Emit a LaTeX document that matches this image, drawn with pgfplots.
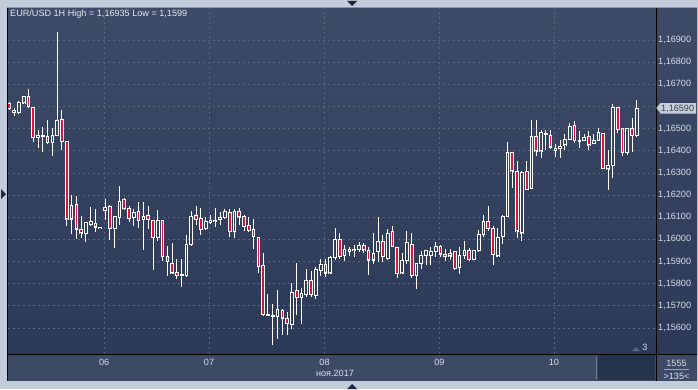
\documentclass[border=0pt]{standalone}
\usepackage{fontspec}
\setmainfont{Liberation Sans}
\usepackage{pgfplots}
\pgfplotsset{compat=1.18}
\usepackage{pgfplotstable}
\definecolor{framec}{HTML}{C2CCDA}
\definecolor{bgtop}{HTML}{3E4B67}
\definecolor{bgbot}{HTML}{2C3957}
\definecolor{barc}{HTML}{3D4A66}
\definecolor{scrollc}{HTML}{26334D}
\definecolor{gridc}{HTML}{56647F}
\definecolor{txt}{HTML}{D6DEEC}
\definecolor{cred}{HTML}{DC143C}
\definecolor{tri}{HTML}{1C2840}
\definecolor{tagc}{HTML}{C8CED8}
\definecolor{tagtxt}{HTML}{39414F}
\newcommand\fs{\fontsize{9.1bp}{11bp}\selectfont}

% white (rising) candles: index, open, high, low, close
\pgfplotstableread{
x O H L C
3 1.16574 1.16625 1.16567 1.16619
4 1.16616 1.16649 1.16610 1.16646
7 1.16462 1.16492 1.16414 1.16471
8 1.16465 1.16507 1.16396 1.16471
10 1.16438 1.16501 1.16378 1.16471
11 1.16471 1.16935 1.16468 1.16537
14 1.16092 1.16200 1.16023 1.16152
17 1.16025 1.16080 1.15989 1.16074
18 1.16068 1.16146 1.16059 1.16080
20 1.16053 1.16053 1.16053 1.16053
21 1.16131 1.16182 1.16086 1.16146
23 1.16050 1.16104 1.15962 1.16104
24 1.16098 1.16240 1.16065 1.16173
27 1.16098 1.16137 1.16059 1.16122
29 1.16089 1.16170 1.15953 1.16104
32 1.16007 1.16131 1.15992 1.16086
37 1.15838 1.15913 1.15786 1.15840
38 1.15838 1.16018 1.15829 1.15979
39 1.15976 1.16127 1.15970 1.16102
42 1.16048 1.16102 1.16042 1.16081
43 1.16078 1.16111 1.16069 1.16084
44 1.16083 1.16142 1.16057 1.16084
45 1.16091 1.16123 1.16066 1.16100
46 1.16100 1.16136 1.16091 1.16127
48 1.16036 1.16136 1.16006 1.16127
56 1.15651 1.15708 1.15522 1.15657
57 1.15651 1.15771 1.15549 1.15684
60 1.15615 1.15802 1.15594 1.15759
62 1.15738 1.15780 1.15618 1.15756
63 1.15753 1.15867 1.15741 1.15816
65 1.15747 1.15874 1.15729 1.15862
66 1.15860 1.15913 1.15834 1.15885
68 1.15849 1.15925 1.15847 1.15919
69 1.15919 1.16051 1.15907 1.16000
71 1.15928 1.15973 1.15903 1.15952
72 1.15946 1.15967 1.15925 1.15952
73 1.15952 1.15976 1.15922 1.15955
74 1.15955 1.15988 1.15943 1.15973
77 1.15907 1.16027 1.15889 1.15937
78 1.15946 1.16100 1.15898 1.15991
80 1.15913 1.16048 1.15910 1.16027
83 1.15849 1.15937 1.15843 1.15903
84 1.15903 1.16036 1.15889 1.15985
86 1.15838 1.15894 1.15774 1.15892
87 1.15892 1.15949 1.15865 1.15925
88 1.15928 1.15952 1.15885 1.15949
89 1.15928 1.15967 1.15883 1.15946
90 1.15946 1.15988 1.15922 1.15970
93 1.15925 1.15955 1.15907 1.15937
95 1.15874 1.15964 1.15843 1.15928
96 1.15928 1.15991 1.15913 1.15949
98 1.15910 1.15952 1.15907 1.15949
99 1.15949 1.16042 1.15946 1.16021
100 1.16021 1.16111 1.16012 1.16081
103 1.15926 1.16053 1.15923 1.16007
104 1.16014 1.16110 1.15978 1.16104
105 1.16104 1.16438 1.16101 1.16393
108 1.16029 1.16309 1.15992 1.16303
110 1.16230 1.16537 1.16227 1.16465
112 1.16399 1.16495 1.16366 1.16483
113 1.16474 1.16492 1.16402 1.16480
116 1.16408 1.16447 1.16369 1.16420
117 1.16426 1.16474 1.16402 1.16453
118 1.16453 1.16525 1.16447 1.16510
120 1.16441 1.16489 1.16411 1.16447
121 1.16447 1.16477 1.16444 1.16462
123 1.16435 1.16477 1.16432 1.16447
124 1.16447 1.16501 1.16444 1.16483
126 1.16318 1.16402 1.16221 1.16333
127 1.16333 1.16610 1.16276 1.16594
130 1.16393 1.16504 1.16381 1.16501
132 1.16468 1.16628 1.16465 1.16590
}\wt

% red (falling) candles: index, open, high, low, close
\pgfplotstableread{
x O H L C
1 1.16612 1.16619 1.16585 1.16589
2 1.16583 1.16594 1.16558 1.16574
5 1.16646 1.16679 1.16592 1.16601
6 1.16594 1.16594 1.16441 1.16462
9 1.16465 1.16537 1.16432 1.16438
12 1.16540 1.16583 1.16402 1.16444
13 1.16441 1.16441 1.16059 1.16092
15 1.16158 1.16197 1.16002 1.16047
16 1.16044 1.16104 1.16005 1.16029
19 1.16071 1.16137 1.16034 1.16056
22 1.16149 1.16155 1.15998 1.16050
25 1.16179 1.16188 1.16134 1.16140
26 1.16140 1.16152 1.16080 1.16095
28 1.16125 1.16170 1.16050 1.16086
30 1.16107 1.16149 1.16047 1.16089
31 1.16086 1.16086 1.15863 1.16007
33 1.16083 1.16083 1.15902 1.15923
34 1.15923 1.15971 1.15833 1.15900
35 1.15892 1.15985 1.15843 1.15849
36 1.15849 1.15910 1.15820 1.15838
40 1.16109 1.16151 1.16066 1.16091
41 1.16093 1.16142 1.16018 1.16045
47 1.16123 1.16136 1.16012 1.16036
49 1.16127 1.16142 1.16063 1.16102
50 1.16105 1.16109 1.16036 1.16060
51 1.16063 1.16100 1.16033 1.16042
52 1.16045 1.16091 1.15958 1.16015
53 1.16009 1.16009 1.15849 1.15876
54 1.15883 1.15937 1.15657 1.15660
55 1.15660 1.15753 1.15654 1.15657
58 1.15681 1.15687 1.15569 1.15645
59 1.15642 1.15672 1.15569 1.15621
61 1.15768 1.15892 1.15660 1.15738
64 1.15813 1.15856 1.15741 1.15753
67 1.15885 1.15910 1.15831 1.15849
70 1.16000 1.16027 1.15913 1.15922
75 1.15973 1.15982 1.15940 1.15952
76 1.15949 1.15967 1.15838 1.15907
79 1.15991 1.16021 1.15898 1.15922
81 1.16036 1.16060 1.15967 1.15970
82 1.15964 1.15964 1.15825 1.15847
85 1.15979 1.16030 1.15825 1.15838
91 1.15967 1.15973 1.15922 1.15934
92 1.15931 1.15955 1.15901 1.15922
94 1.15946 1.15949 1.15865 1.15868
97 1.15949 1.15961 1.15901 1.15910
101 1.16081 1.16151 1.16039 1.16051
102 1.16050 1.16059 1.15886 1.15932
106 1.16393 1.16396 1.16233 1.16309
107 1.16305 1.16354 1.16005 1.16038
109 1.16305 1.16354 1.16224 1.16227
111 1.16465 1.16540 1.16375 1.16399
114 1.16468 1.16492 1.16408 1.16417
115 1.16411 1.16432 1.16372 1.16402
119 1.16513 1.16534 1.16435 1.16447
122 1.16465 1.16489 1.16402 1.16426
125 1.16477 1.16480 1.16318 1.16321
128 1.16594 1.16598 1.16480 1.16495
129 1.16501 1.16504 1.16378 1.16393
131 1.16501 1.16549 1.16393 1.16468
}\rd

\pgfplotsset{
  wickup/.style={draw=none, mark=none, error bars/.cd, y dir=plus, y explicit, error mark=none,
    error bar style={draw=white, line width=1bp}},
  wickdn/.style={draw=none, mark=none, error bars/.cd, y dir=minus, y explicit, error mark=none,
    error bar style={draw=white, line width=1bp}},
  side/.style={draw=none, mark=none, error bars/.cd, y dir=both, y explicit, error mark=none,
    error bar style={draw=white, line width=1bp}},
  cap/.style={only marks, mark=-, mark size=1.85bp, mark options={draw=white, line width=1bp}},
}

\begin{document}
\begin{tikzpicture}[x=1bp,y=1bp]
\useasboundingbox (0,0) rectangle (698,389);
\fill[framec] (0,0) rectangle (698,389);
\shade[top color=bgtop, bottom color=bgbot] (8,35) rectangle (697,381);
\fill[barc] (8,8) rectangle (697,35);
\fill[scrollc] (598,9) rectangle (655,34);
\draw[color={rgb,255:red,108;green,121;blue,144}, line width=1.3bp] (596.5,10) -- (596.5,32);
% small triangles on the frame
\fill[tri] (347,388) -- (357,388) -- (352,383) -- cycle;
\fill[tri] (1,200) -- (1,190) -- (6,195) -- cycle;
\fill[tri] (347,0) -- (357,0) -- (352,5) -- cycle;

\begin{axis}[
  at={(8bp,35bp)}, anchor=south west, scale only axis,
  width=648bp, height=346bp,
  xmin=0.73, xmax=136, ymin=1.154824, ymax=1.170445,
  axis line style={draw=none}, major tick length=0pt,
  xtick={20.8,42.7,66.8,90.8,114.7}, xticklabels={06,07,08,09,10},
  ytick={1.156,1.157,1.158,1.159,1.160,1.161,1.162,1.163,1.164,1.165,1.166,1.167,1.168,1.169},
  yticklabels={{1,15600},{1,15700},{1,15800},{1,15900},{1,16000},{1,16100},{1,16200},{1,16300},{1,16400},{1,16500},{},{1,16700},{1,16800},{1,16900}},
  yticklabel pos=right,
  xmajorgrids, ymajorgrids,
  grid style={draw=gridc, dash pattern=on 2bp off 3bp, line width=0.8bp},
  xticklabel style={font=\fs, text=txt, anchor=center, yshift=-8bp},
  yticklabel style={font=\fs, text=txt, anchor=west, inner sep=0pt, xshift=2bp},
]
% wicks
\addplot[wickup] table[x=x, y=C, y error plus expr=\thisrow{H}-\thisrow{C}] {\wt};
\addplot[wickdn] table[x=x, y=O, y error minus expr=\thisrow{O}-\thisrow{L}] {\wt};
\addplot[wickup] table[x=x, y=O, y error plus expr=\thisrow{H}-\thisrow{O}] {\rd};
\addplot[wickdn] table[x=x, y=C, y error minus expr=\thisrow{C}-\thisrow{L}] {\rd};
% red bodies
\addplot[draw=none, mark=none, error bars/.cd, y dir=both, y explicit, error mark=none,
  error bar style={draw=cred, line width=3.7bp}]
  table[x=x, y expr=(\thisrow{O}+\thisrow{C})/2, y error expr=(\thisrow{O}-\thisrow{C})/2] {\rd};
% body outlines
\addplot[side] table[x expr=\thisrow{x}-0.282, y expr=(\thisrow{O}+\thisrow{C})/2, y error expr=(\thisrow{C}-\thisrow{O})/2+0.0000226] {\wt};
\addplot[side] table[x expr=\thisrow{x}+0.282, y expr=(\thisrow{O}+\thisrow{C})/2, y error expr=(\thisrow{C}-\thisrow{O})/2+0.0000226] {\wt};
\addplot[side] table[x expr=\thisrow{x}-0.282, y expr=(\thisrow{O}+\thisrow{C})/2, y error expr=(\thisrow{O}-\thisrow{C})/2+0.0000226] {\rd};
\addplot[side] table[x expr=\thisrow{x}+0.282, y expr=(\thisrow{O}+\thisrow{C})/2, y error expr=(\thisrow{O}-\thisrow{C})/2+0.0000226] {\rd};
\addplot[cap] table[x=x, y=O] {\wt};
\addplot[cap] table[x=x, y=C] {\wt};
\addplot[cap] table[x=x, y=O] {\rd};
\addplot[cap] table[x=x, y=C] {\rd};
\end{axis}

% borders
\draw[black, line width=1.2bp] (7.5,8) -- (7.5,381.5);
\draw[black, line width=1bp] (656,8) -- (656,381);
\draw[black, line width=1bp] (8,35) -- (697,35);
\draw[color={rgb,255:red,138;green,150;blue,171}, line width=0.8bp] (7,381.5) -- (697,381.5);
% title
\node[anchor=west, inner sep=0pt, text={rgb,255:red,228;green,234;blue,244}] at (10,374.5) {\fs EUR/USD 1H High = 1,16935 Low = 1,1599};
% date label
\node[inner sep=0pt, text=txt] at (335,15.5) {\fs ноя.2017};
% current price tag
\fill[tagc] (656.3,281) -- (659.8,285) -- (659.8,286) -- (696,286) -- (696,275.5) -- (659.8,275.5) -- (659.8,277) -- cycle;
\node[anchor=west, inner sep=0pt, text=tagtxt] at (661,280.5) {\fs 1,16590};
% scroll marker
\fill[color={rgb,255:red,90;green,104;blue,132}] (632,38) -- (640,38) -- (636,42) -- cycle;
\node[inner sep=0pt, text=txt] at (645,42) {\fs 3};
% bottom right cell
\node[inner sep=0pt, text=txt] at (676.5,26) {\fs 1555};
\draw[color={rgb,255:red,154;green,166;blue,184}, line width=0.7bp] (664,20) -- (689,20);
\node[inner sep=0pt, text=txt] at (676.5,13) {\fs >135<};
\end{tikzpicture}
\end{document}
